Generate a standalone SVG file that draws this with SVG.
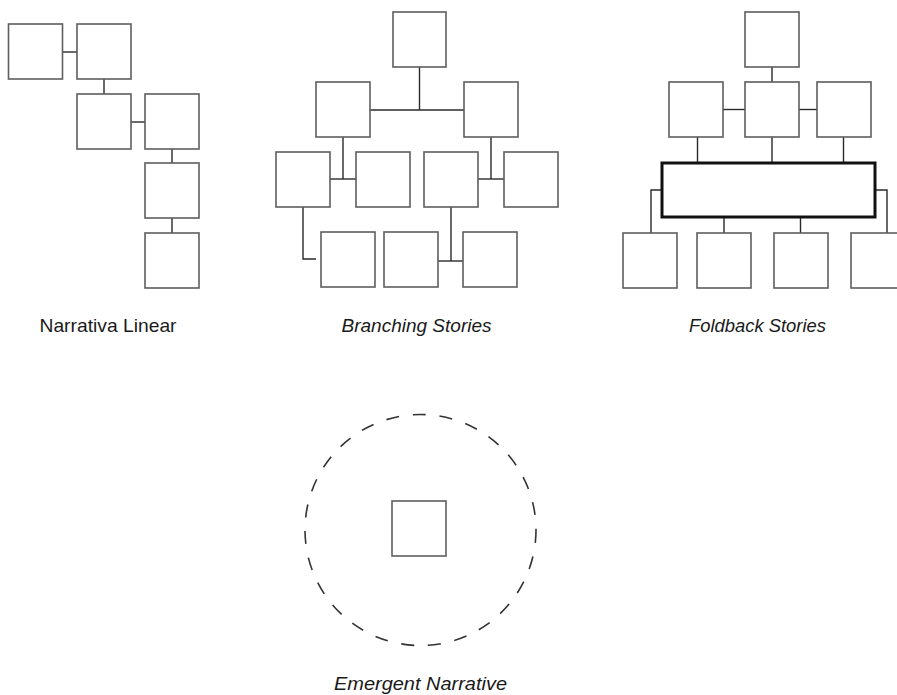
<svg xmlns="http://www.w3.org/2000/svg" width="897" height="695" viewBox="0 0 897 695">
  <style>
    .box { fill: #ffffff; stroke: #5e5e5e; stroke-width: 1.6; }
    .hub { fill: #ffffff; stroke: #111111; stroke-width: 3; }
    .link { fill: none; stroke: #2a2a2a; stroke-width: 1.4; }
    .ring { fill: none; stroke: #333333; stroke-width: 1.6; stroke-dasharray: 13 13.8; }
    .label { font-family: "Liberation Sans", Arial, sans-serif; font-size: 19px; fill: #1a1a1a; }
    .it { font-style: italic; }
  </style>

  <!-- connectors -->
  <g id="connectors" class="link">
    <!-- linear -->
    <path d="M62.5 52 H77"/>
    <path d="M104 79 V94"/>
    <path d="M131 122 H145"/>
    <path d="M172 149 V163"/>
    <path d="M172 218 V233"/>
    <!-- branching -->
    <path d="M419.5 67 V110"/>
    <path d="M370 110 H464"/>
    <path d="M343 137 V179"/>
    <path d="M330 179 H356"/>
    <path d="M491 137 V179"/>
    <path d="M478 179 H504"/>
    <path d="M303 207 V259 H316"/>
    <path d="M451 207 V261"/>
    <path d="M438 261 H463"/>
    <!-- foldback -->
    <path d="M772 67 V82"/>
    <path d="M723 109.5 H745"/>
    <path d="M799 109.5 H817"/>
    <path d="M697.5 137 V163"/>
    <path d="M772 137 V163"/>
    <path d="M843.5 137 V163"/>
    <path d="M662 190 H651 V233"/>
    <path d="M724 217 V233"/>
    <path d="M800.5 217 V233"/>
    <path d="M875 190 H887 V233"/>
  </g>

  <!-- linear narrative -->
  <g id="linear-1"><rect class="box" x="8.5" y="24" width="54" height="55"/></g>
  <g id="linear-2"><rect class="box" x="77" y="24" width="54" height="55"/></g>
  <g id="linear-3"><rect class="box" x="77" y="94" width="54" height="55"/></g>
  <g id="linear-4"><rect class="box" x="145" y="94" width="54" height="55"/></g>
  <g id="linear-5"><rect class="box" x="145" y="163" width="54" height="55"/></g>
  <g id="linear-6"><rect class="box" x="145" y="233" width="54" height="55"/></g>

  <!-- branching stories -->
  <g id="branch-root"><rect class="box" x="393" y="12" width="53" height="55"/></g>
  <g id="branch-a"><rect class="box" x="316" y="82" width="54" height="55"/></g>
  <g id="branch-b"><rect class="box" x="464" y="82" width="54" height="55"/></g>
  <g id="branch-a1"><rect class="box" x="276" y="152" width="54" height="55"/></g>
  <g id="branch-a2"><rect class="box" x="356" y="152" width="54" height="55"/></g>
  <g id="branch-b1"><rect class="box" x="424" y="152" width="54" height="55"/></g>
  <g id="branch-b2"><rect class="box" x="504" y="152" width="54" height="55"/></g>
  <g id="branch-a1a"><rect class="box" x="321" y="232" width="54" height="55"/></g>
  <g id="branch-b1a"><rect class="box" x="384" y="232" width="54" height="55"/></g>
  <g id="branch-b1b"><rect class="box" x="463" y="232" width="54" height="55"/></g>

  <!-- foldback stories -->
  <g id="fold-root"><rect class="box" x="745" y="12" width="54" height="55"/></g>
  <g id="fold-a"><rect class="box" x="669" y="82" width="54" height="55"/></g>
  <g id="fold-b"><rect class="box" x="745" y="82" width="54" height="55"/></g>
  <g id="fold-c"><rect class="box" x="817" y="82" width="54" height="55"/></g>
  <g id="fold-hub"><rect class="hub" x="662" y="163" width="213" height="54"/></g>
  <g id="fold-end-1"><rect class="box" x="623" y="233" width="54" height="55"/></g>
  <g id="fold-end-2"><rect class="box" x="697" y="233" width="54" height="55"/></g>
  <g id="fold-end-3"><rect class="box" x="774" y="233" width="54" height="55"/></g>
  <g id="fold-end-4"><rect class="box" x="851" y="233" width="54" height="55"/></g>

  <!-- emergent narrative -->
  <g id="emergent">
    <circle class="ring" cx="420.5" cy="530" r="115.5"/>
    <rect class="box" x="392" y="501" width="54" height="55"/>
  </g>

  <!-- captions -->
  <g id="captions">
    <text class="label" x="39.5" y="331.5" textLength="137" lengthAdjust="spacingAndGlyphs">Narrativa Linear</text>
    <text class="label it" x="341.5" y="331.5" textLength="150" lengthAdjust="spacingAndGlyphs">Branching Stories</text>
    <text class="label it" x="689" y="331.5" textLength="137" lengthAdjust="spacingAndGlyphs">Foldback Stories</text>
    <text class="label it" x="334" y="690" textLength="173" lengthAdjust="spacingAndGlyphs">Emergent Narrative</text>
  </g>
</svg>
